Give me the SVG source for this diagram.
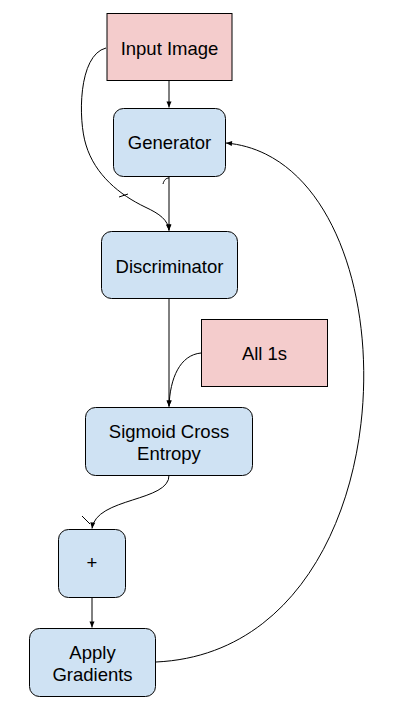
<svg xmlns="http://www.w3.org/2000/svg" width="404" height="718" viewBox="0 0 404 718">
<style>
.pink{fill:#f4cccc;stroke:#000;stroke-width:1}
.blue{fill:#cfe2f3;stroke:#000;stroke-width:1}
.t{font-family:"Liberation Sans",Arial,sans-serif;font-size:18.5px;fill:#000;text-anchor:middle}
.c{fill:none;stroke:#000;stroke-width:1}
</style>
<defs>
<marker id="ah" markerWidth="8" markerHeight="8" refX="7" refY="4" orient="auto" markerUnits="userSpaceOnUse">
<path d="M1,1.5 L7,4 L1,6.5 Z" fill="#000"/>
</marker>
</defs>
<rect width="404" height="718" fill="#fff"/>
<g id="connectors">
<path class="c" d="M169,81 L169,107.5" marker-end="url(#ah)"/>
<path class="c" d="M169,176 L169,230.5" marker-end="url(#ah)"/>
<path class="c" d="M106,48 C78,55 78,120 86,145 C95,175 120,195 145,207 C160,214 168,220 169,230.5" marker-end="url(#ah)"/>
<path class="c" d="M163,184 C164,180 166,178 169,178"/>
<path class="c" d="M119,197 L128,194"/>
<path class="c" d="M169,298 L169,406.5" marker-end="url(#ah)"/>
<path class="c" d="M201,353 C180,355 170,378 169,406.5" marker-end="url(#ah)"/>
<path class="c" d="M169,475 C170,502 96,497 92,528.5" marker-end="url(#ah)"/>
<path class="c" d="M82,516 L90,524"/>
<path class="c" d="M92,597 L92,627.5" marker-end="url(#ah)"/>
<path class="c" d="M156,662 C420,650 420,160 226,143" marker-end="url(#ah)"/>
</g>
<g id="input-image">
<rect class="pink" x="107" y="13.5" width="125" height="67"/>
<text class="t" x="169.5" y="54.5">Input Image</text>
</g>
<g id="generator">
<rect class="blue" x="113.5" y="108.5" width="112" height="68" rx="10"/>
<text class="t" x="169.5" y="149">Generator</text>
</g>
<g id="discriminator">
<rect class="blue" x="101.5" y="231.5" width="136" height="67" rx="10"/>
<text class="t" x="169.5" y="272.5">Discriminator</text>
</g>
<g id="all-1s">
<rect class="pink" x="201.5" y="319.5" width="126" height="67"/>
<text class="t" x="264.5" y="360">All 1s</text>
</g>
<g id="sigmoid-cross-entropy">
<rect class="blue" x="85.5" y="407.5" width="167" height="68" rx="10"/>
<text class="t" x="169" y="438">Sigmoid Cross</text>
<text class="t" x="169" y="459.5">Entropy</text>
</g>
<g id="plus">
<rect class="blue" x="58.5" y="529.5" width="67" height="68" rx="10"/>
<text class="t" x="92" y="569">+</text>
</g>
<g id="apply-gradients">
<rect class="blue" x="29.5" y="628.5" width="126" height="68" rx="10"/>
<text class="t" x="92.5" y="659">Apply</text>
<text class="t" x="92.5" y="680.5">Gradients</text>
</g>
</svg>
